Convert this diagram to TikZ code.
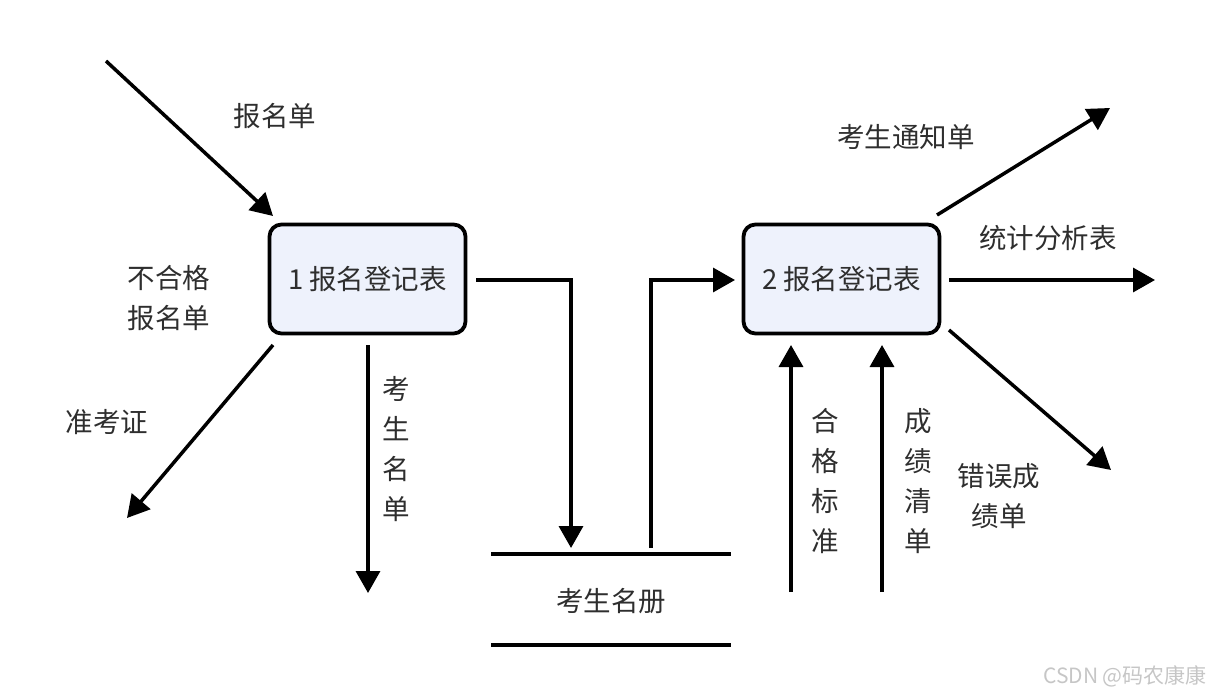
\documentclass[tikz,border=0pt]{standalone}
\usepackage{fontspec}
\setmainfont{Noto Sans CJK SC}
\usetikzlibrary{arrows.meta,calc}
\definecolor{boxfill}{HTML}{EEF2FC}
\definecolor{txt}{HTML}{2E2E2E}
\begin{document}
\begin{tikzpicture}[x=1pt,y=-1pt,
  procbox/.style={draw=black,line width=3.8pt,rounded corners=12pt,fill=boxfill,
    minimum width=196pt,minimum height=109pt,inner sep=0pt,text=txt,
    font=\fontsize{27.5}{32}\selectfont},
  lbl/.style={text=txt,inner sep=0pt,align=center,font=\fontsize{27.5}{40}\selectfont},
  arr/.style={line width=3.5pt,-{Triangle[length=22pt,width=24pt]}},
  ln/.style={line width=3.5pt},
  storeline/.style={line width=4pt}]
\useasboundingbox (0,0) rectangle (1220,696);
% processes
\node[procbox] (p1) at (367.5,279) {1 报名登记表};
\node[procbox] (p2) at (841.5,279) {2 报名登记表};
% data store
\coordinate (s1l) at (491,554);
\coordinate (s1r) at (731,554);
\coordinate (s2l) at (491,645);
\coordinate (s2r) at (731,645);
\draw[storeline] (s1l) -- (s1r);
\draw[storeline] (s2l) -- (s2r);
\node[lbl] (store) at (611,601) {考生名册};
% free ends
\coordinate (in1) at (106,61);
\coordinate (t1) at (273,216);
\coordinate (o1s) at (273,345);
\coordinate (o1e) at (127,518);
\coordinate (o2s) at (368,345);
\coordinate (o2e) at (368,593);
\coordinate (r1s) at (476,280);
\coordinate (r1e) at (571,548);
\coordinate (r2s) at (651,548);
\coordinate (r2e) at (735,280);
\coordinate (q1s) at (937,215);
\coordinate (q1e) at (1110,108);
\coordinate (q2s) at (949,280);
\coordinate (q2e) at (1155,280);
\coordinate (q3s) at (949,330);
\coordinate (q3e) at (1111,470);
\coordinate (u1s) at (791,592);
\coordinate (u1e) at (791,345);
\coordinate (u2s) at (882,592);
\coordinate (u2e) at (882,345);
% connectors
\draw[arr] (in1) -- (t1);
\draw[arr] (o1s) -- (o1e);
\draw[arr] (o2s) -- (o2e);
\draw[arr] (r1s) -| (r1e);
\draw[arr] (r2s) |- (r2e);
\draw[arr] (q1s) -- (q1e);
\draw[arr] (q2s) -- (q2e);
\draw[arr] (q3s) -- (q3e);
\draw[arr] (u1s) -- (u1e);
\draw[arr] (u2s) -- (u2e);
% labels
\node[lbl] (l1) at (275,116) {报名单};
\node[lbl] (l2) at (169,298) {不合格\\报名单};
\node[lbl] (l3) at (107,422) {准考证};
\node[lbl] (l4) at (396,449) {考\\生\\名\\单};
\node[lbl] (l5) at (906,137) {考生通知单};
\node[lbl] (l6) at (1048,238) {统计分析表};
\node[lbl] (l7) at (999,496) {错误成\\绩单};
\node[lbl] (l8) at (825,481) {合\\格\\标\\准};
\node[lbl] (l9) at (918,481) {成\\绩\\清\\单};
\node[text=gray!45,inner sep=0pt,font=\fontsize{21}{24}\selectfont] (wm) at (1125,676) {CSDN @码农康康};
\end{tikzpicture}
\end{document}
